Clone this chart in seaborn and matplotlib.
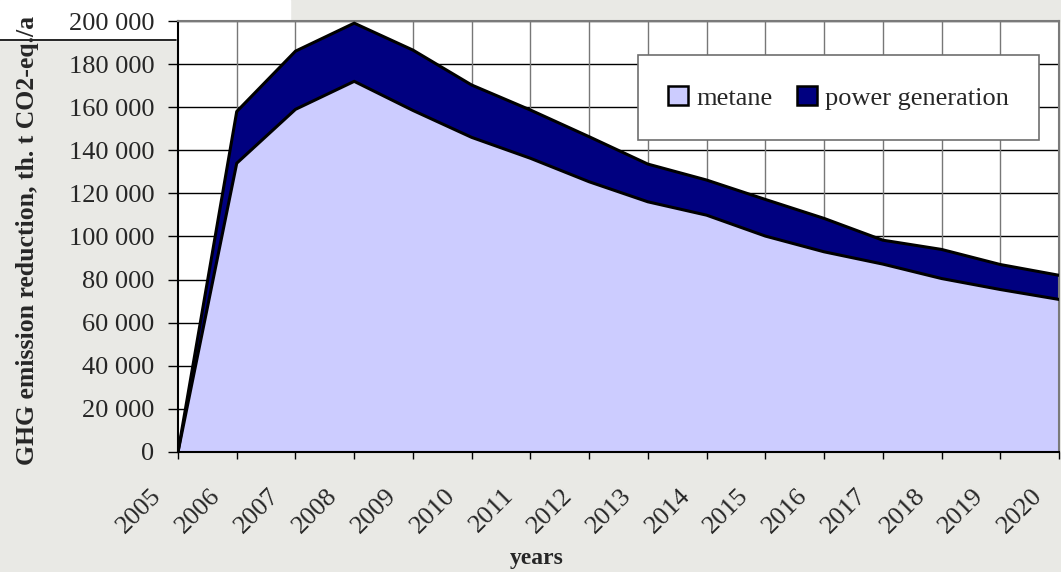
import numpy as np
import pandas as pd
import seaborn as sns
import matplotlib.pyplot as plt
from matplotlib.patches import Rectangle, Patch
from matplotlib.lines import Line2D
from matplotlib.transforms import ScaledTranslation

# values (th. t CO2-eq./a)
years = list(range(2005, 2021))
metane = [0, 134000, 159000, 172000, 158500, 146000, 136300, 125400,
          116100, 109900, 100200, 92900, 87200, 80500, 75400, 70800]
power_generation = [0, 24000, 27000, 27000, 28000, 24300, 22400, 20900,
                    17500, 16300, 17000, 15500, 11100, 13500, 11600, 11200]
y_ticks = list(range(0, 200001, 20000))

df = pd.DataFrame({"year": years, "metane": metane, "power": power_generation})
df["total"] = df["metane"] + df["power"]

sns.set_style("white")
plt.rcParams['font.family'] = ['Liberation Serif', 'DejaVu Serif']

fig = plt.figure(figsize=(10.61, 5.72), dpi=100, facecolor="#e9e9e5")
ax = fig.add_axes([178 / 1061, 1 - 452 / 572, 881 / 1061, 431 / 572])
ax.set_facecolor("white")

# slide artefacts in the top left corner (behind everything)
fig.patches.append(Rectangle((0, 1 - 40 / 572), 176 / 1061, 40 / 572,
                             transform=fig.transFigure, facecolor="white", zorder=-5))
fig.patches.append(Rectangle((176 / 1061, 1 - 22 / 572), 114 / 1061, 22 / 572,
                             transform=fig.transFigure, facecolor="white", zorder=-5))
fig.lines.append(Line2D([0, 176 / 1061], [1 - 40 / 572, 1 - 40 / 572],
                        transform=fig.transFigure, color="black", lw=1.2, zorder=-4))

# grid
for y in y_ticks[1:]:
    ax.axhline(y, color="black", lw=1, zorder=1)
for x in years[1:]:
    ax.axvline(x, color="#777777", lw=1, zorder=1)

# stacked areas
ax.fill_between(df["year"], df["metane"], df["total"], color="#000080", zorder=2, lw=0)
ax.fill_between(df["year"], 0, df["metane"], color="#ccccff", zorder=2, lw=0)
sns.lineplot(data=df, x="year", y="total", color="black", lw=2.2, ax=ax, zorder=3)
sns.lineplot(data=df, x="year", y="metane", color="black", lw=2.2, ax=ax, zorder=3)

ax.set_xlim(2005, 2020)
ax.set_ylim(0, 200000)
ax.set_yticks(y_ticks)
ax.set_yticklabels([f"{v:,}".replace(",", " ") for v in y_ticks], fontsize=19)
ax.set_xticks(years)
ax.set_xticklabels([str(y) for y in years], fontsize=19, rotation=45,
                   ha="right", va="center", rotation_mode="anchor")
ax.tick_params(axis="y", direction="out", length=7, width=1, color="black",
               left=True, pad=10)
ax.tick_params(axis="x", direction="out", length=5, width=1, color="black",
               bottom=True, pad=24)
shift = ScaledTranslation(-20 / 100, 0, fig.dpi_scale_trans)
for lab in ax.get_xticklabels():
    lab.set_transform(lab.get_transform() + shift)

for side in ["left", "bottom"]:
    ax.spines[side].set_color("black")
    ax.spines[side].set_linewidth(1.5)
for side in ["top", "right"]:
    ax.spines[side].set_visible(True)
    ax.spines[side].set_color("#7a7a7a")
    ax.spines[side].set_linewidth(1.5)

ax.set_xlabel("years", fontsize=17, fontweight="bold")
ax.xaxis.label.set_va("center")
ax.xaxis.set_label_coords(0.407, -0.246)
ax.set_ylabel("GHG emission reduction, th. t CO2-eq./a", fontsize=18.5, fontweight="bold")
ax.yaxis.label.set_va("center")
ax.yaxis.set_label_coords(-0.171, 0.49)

handles = [Patch(facecolor="#ccccff", edgecolor="black", lw=1.8, label="metane"),
           Patch(facecolor="#000080", edgecolor="black", lw=1.8, label="power generation")]
leg = ax.legend(handles=handles, ncol=2, loc="center",
                bbox_to_anchor=(0.522, 0.722, 0.455, 0.2), mode="expand",
                frameon=True, fancybox=False, fontsize=19, handlelength=0.75,
                handleheight=0.75, handletextpad=0.3, columnspacing=2.0,
                borderpad=1.15, borderaxespad=0)
leg.get_frame().set_edgecolor("#6e6e6e")
leg.get_frame().set_linewidth(1.2)
leg.get_frame().set_alpha(1)
leg.set_zorder(5)

fig.savefig("out.png", dpi=100, facecolor=fig.get_facecolor())
